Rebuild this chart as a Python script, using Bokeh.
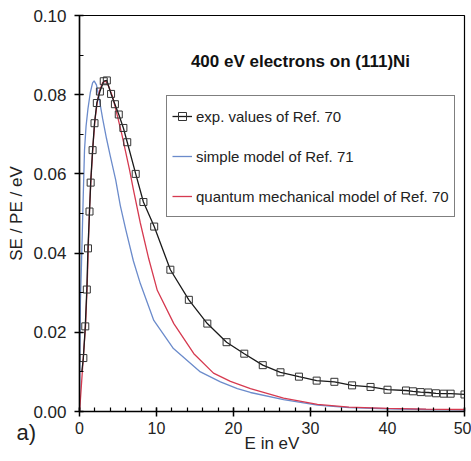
from bokeh.plotting import figure
from bokeh.models import (Range1d, SingleIntervalTicker, PrintfTickFormatter, Label,
                          Legend, LegendItem, Title)
from bokeh.embed import file_html
from bokeh.resources import INLINE

# ---- data ----
exp_E = [0.3, 0.5, 0.75, 0.95, 1.1, 1.3, 1.45, 1.7, 1.95, 2.25, 2.65, 3.15, 3.55, 4.1, 4.6,
         5.1, 5.7, 6.2, 7.3, 8.3, 9.7, 11.8, 14.2, 16.6, 19.1, 21.4, 23.8, 26.1, 28.5, 30.8,
         33.1, 35.4, 37.8, 40.0, 42.4, 43.3, 44.3, 45.3, 46.3, 47.3, 48.2, 50.0]
exp_Y = [0.0100, 0.0135, 0.0215, 0.0308, 0.0412, 0.0505, 0.0578, 0.0660, 0.0728, 0.0779,
         0.0808, 0.0834, 0.0836, 0.0802, 0.0776, 0.0750, 0.0716, 0.0680, 0.0600, 0.0529,
         0.0467, 0.0358, 0.0282, 0.0222, 0.0175, 0.0146, 0.0117, 0.0099, 0.0088, 0.0078,
         0.0075, 0.0066, 0.0062, 0.0055, 0.0053, 0.0051, 0.0049, 0.0048, 0.0046, 0.0045,
         0.0045, 0.0043]

simple_E = [0, 0.05, 0.12, 0.26, 0.48, 0.65, 0.85, 1.1, 1.4, 1.7, 1.9, 2.2, 2.6, 3.0, 3.5,
            4.0, 4.7, 5.3, 6.0, 7.0, 7.9, 9.65, 12.2, 15.7, 18.3, 20.5, 22.2, 26.5, 30.9,
            35.0, 40.0, 45.0, 50.0]
simple_Y = [0.0, 0.015, 0.028, 0.0374, 0.054, 0.066, 0.072, 0.0765, 0.0805, 0.083, 0.0835,
            0.0825, 0.0785, 0.0740, 0.0690, 0.0645, 0.0585, 0.0520, 0.0460, 0.0380, 0.0323,
            0.0230, 0.0159, 0.0100, 0.0075, 0.0058, 0.0048, 0.0030, 0.0016, 0.0010, 0.0007,
            0.0005, 0.0004]

quant_E = [0, 0.05, 0.4, 0.78, 1.0, 1.15, 1.3, 1.5, 1.75, 2.0, 2.3, 2.6, 3.0, 3.4, 3.8, 4.3,
           5.0, 5.5, 6.0, 6.5, 7.0, 7.9, 9.0, 10.1, 12.25, 14.85, 17.4, 19.6, 22.2, 26.5,
           30.9, 35.0, 40.0, 45.0, 50.0]
quant_Y = [0.0, 0.001, 0.011, 0.0215, 0.032, 0.042, 0.051, 0.059, 0.067, 0.0735, 0.078,
           0.081, 0.083, 0.0835, 0.082, 0.0795, 0.0740, 0.0700, 0.0655, 0.0610, 0.0560,
           0.0476, 0.0385, 0.0306, 0.0222, 0.0146, 0.0097, 0.0076, 0.0058, 0.0034, 0.0018,
           0.0011, 0.0008, 0.0006, 0.0005]

series_labels = ["exp. values of Ref. 70", "simple model of Ref. 71",
                 "quantum mechanical model of Ref. 70"]
title_text = "400 eV electrons on (111)Ni"
x_label = "E in eV"
y_label = "SE / PE / eV"
panel_tag = "a)"

FONT = "Liberation Sans"

p = figure(width=471, height=461, output_backend="svg", toolbar_location=None,
           x_range=Range1d(0, 50), y_range=Range1d(0, 0.10),
           min_border_left=79, min_border_right=7, min_border_top=15, min_border_bottom=50)
p.grid.visible = False
p.outline_line_color = "black"
p.outline_line_width = 1.2
p.background_fill_color = "white"
p.border_fill_color = "white"

p.xaxis.ticker = SingleIntervalTicker(interval=10, num_minor_ticks=5)
p.yaxis.ticker = SingleIntervalTicker(interval=0.02, num_minor_ticks=2)
p.yaxis.formatter = PrintfTickFormatter(format="%.2f")
for ax in (p.xaxis[0], p.yaxis[0]):
    ax.axis_line_color = "black"
    ax.axis_line_width = 1.5
    ax.major_tick_line_color = "black"
    ax.major_tick_line_width = 1.5
    ax.minor_tick_line_color = "black"
    ax.minor_tick_line_width = 1.2
    ax.major_tick_in = 4
    ax.major_tick_out = 5
    ax.minor_tick_in = 4
    ax.minor_tick_out = 0
    ax.major_label_text_font = FONT
    ax.major_label_text_color = "#222222"
    ax.axis_label_text_font = FONT
    ax.axis_label_text_font_style = "normal"
    ax.axis_label_text_color = "#222222"
    ax.axis_label_text_font_size = "17px"

p.yaxis.major_label_text_font_size = "17px"
p.yaxis.major_label_standoff = 8
p.yaxis.axis_label = y_label
p.yaxis.axis_label_standoff = 4
p.xaxis.major_label_text_font_size = "16px"
p.xaxis.major_label_standoff = 5
p.xaxis.axis_label = x_label
p.xaxis.axis_label_standoff = -3

blue = p.line(simple_E, simple_Y, line_color="#6b8bcb", line_width=1.3)
red = p.line(quant_E, quant_Y, line_color="#d63a50", line_width=1.3)
blk = p.line(exp_E, exp_Y, line_color="#1a1a1a", line_width=1.3)
sq = p.scatter(exp_E[1:], exp_Y[1:], marker="square", size=7, line_color="#333333",
               line_width=1, fill_alpha=0)

legend = Legend(items=[LegendItem(label=series_labels[0], renderers=[blk, sq]),
                       LegendItem(label=series_labels[1], renderers=[blue]),
                       LegendItem(label=series_labels[2], renderers=[red])],
                location=(87, 194))
legend.border_line_color = "black"
legend.border_line_width = 1
legend.label_text_font = FONT
legend.label_text_font_size = "15px"
legend.label_text_color = "#222222"
legend.glyph_width = 20
legend.glyph_height = 30
legend.label_height = 30
legend.spacing = 10
legend.padding = 5
legend.margin = 0
legend.label_standoff = 4
legend.background_fill_alpha = 1
p.add_layout(legend)

p.add_layout(Label(x=28.7, y=0.0884, text=title_text, text_font=FONT, text_font_size="17px",
                   text_font_style="bold", text_align="center", text_baseline="middle",
                   text_color="#111111"))

tag = Title(text=panel_tag, align="left", vertical_align="top", offset=-63, standoff=-71,
            text_font=FONT, text_font_size="22px", text_font_style="normal",
            text_color="#222222")
p.add_layout(tag, "below")

open("out.html", "w").write(file_html(p, INLINE))
